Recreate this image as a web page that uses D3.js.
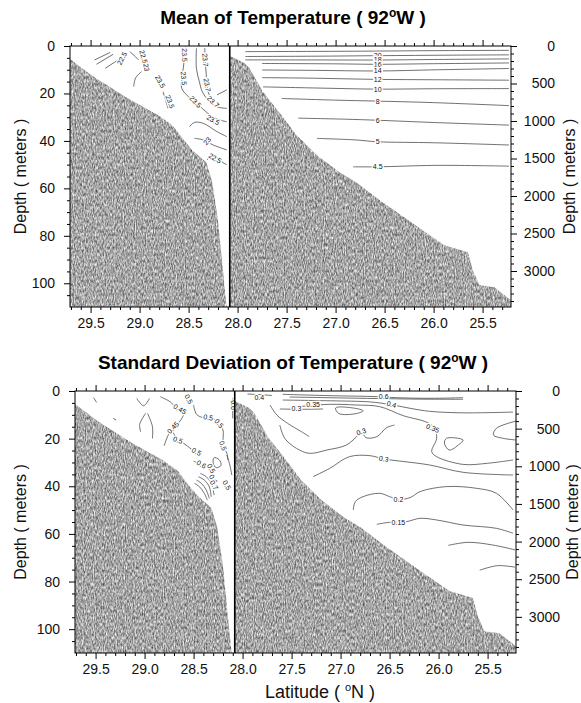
<!DOCTYPE html>
<html>
<head>
<meta charset="utf-8">
<script src="https://cdn.jsdelivr.net/npm/d3@7"></script>
<style>
  body { margin: 0; background: #fff; }
  svg { display: block; font-family: "Liberation Sans", Arial, Helvetica, sans-serif; }
</style>
</head>
<body>
<svg id="chart" width="581" height="703"></svg>
<script>
// ---------------- data ----------------
const latMajorTicks = [29.5, 29.0, 28.5, 28.0, 27.5, 27.0, 26.5, 26.0, 25.5];
const shelfDepthTicks = [0, 20, 40, 60, 80, 100];
const deepDepthTicks = [0, 500, 1000, 1500, 2000, 2500, 3000];
const latRange = [29.71, 25.21];
const splitLat = 28.08;          // shelf section (left) / deep section (right)
const shelfDepthMax = 110;       // m, left axis
const deepDepthMax = 3480;       // m, right axis

// bottom topography [lat, depth]
const shelfBottom = [[29.71,5.5],[29.48,12.6],[29.13,21.8],[28.80,29.4],[28.66,33.6],[28.56,39],
  [28.46,44],[28.32,49],[28.26,57],[28.20,73.5],[28.16,90],[28.12,107],[28.11,110]];
const slopeBottom = [[28.08,133],[27.93,227],[27.88,294],[27.74,614],[27.57,894],[27.40,1188],
  [27.19,1455],[26.96,1682],[26.79,1816],[26.55,2056],[26.14,2430],[25.89,2657],[25.65,2750],
  [25.60,2990],[25.53,3190],[25.38,3218],[25.21,3390]];

// mean temperature, shelf section: contour lines [lat, depth]
const meanShelfLines = [
  [[29.46,5.9],[29.30,2.7]],
  [[29.44,7.7],[29.27,3.5]],
  [[29.35,9.4],[29.22,5.9]],
  [[29.10,2.4],[29.04,4.6],[29.01,5.9]],
  [[28.98,10.8],[29.04,13.4],[29.06,17.1]],
  [[28.76,19.3],[28.71,26.3]],
  [[28.53,0.3],[28.55,8.0],[28.57,17.8],[28.50,21.4],[28.38,25.6],[28.28,29.1],[28.18,31.2],[28.11,31.9]],
  [[28.42,1.0],[28.42,9.4],[28.39,15.0],[28.36,19.3],[28.30,22.8],[28.21,25.6],[28.11,26.3]],
  [[28.335,0.8],[28.33,6],[28.32,12],[28.31,17],[28.29,20.5],[28.24,23.0]],
  [[28.21,20.6],[28.11,18.5]],
  [[28.49,34],[28.44,32.2],[28.35,32.6],[28.21,36.1],[28.11,38.2]],
  [[28.44,38.9],[28.35,39.6],[28.25,41.7],[28.11,43.8]],
  [[28.31,48],[28.26,46],[28.20,47.5],[28.14,49.4],[28.11,50]]
];
const meanShelfLabels = [
  {t:"22.5", lat:29.18, d:5.2, rot:-62}, {t:"22.5", lat:28.96, d:4.5, rot:75},
  {t:"23", lat:28.93, d:9.0, rot:80},    {t:"23.5", lat:28.79, d:15.0, rot:60},
  {t:"23.5", lat:28.69, d:23.5, rot:70}, {t:"23.5", lat:28.54, d:3.8, rot:88},
  {t:"23.5", lat:28.55, d:13.6, rot:85}, {t:"23.7", lat:28.33, d:5.9, rot:85},
  {t:"23.7", lat:28.31, d:16.4, rot:80}, {t:"23.7", lat:28.25, d:23.5, rot:45},
  {t:"23.5", lat:28.43, d:23.5, rot:45}, {t:"23.5", lat:28.25, d:31.2, rot:30},
  {t:"23", lat:28.31, d:40.0, rot:-50},  {t:"22.5", lat:28.23, d:47.3, rot:30}
];

// mean temperature, deep section
const meanDeepLines = [
  [[27.92,75],[27.2,72],[26.6,68],[26.0,62],[25.23,58]],
  [[27.92,140],[27.2,136],[26.57,129],[25.8,122],[25.23,118]],
  [[27.92,185],[27.2,186],[26.57,187],[26.0,180],[25.23,172]],
  [[27.75,233],[27.0,238],[26.57,244],[26.0,236],[25.23,226]],
  [[27.75,320],[27.2,325],[26.57,333],[26.0,318],[25.23,300]],
  [[27.75,422],[27.3,428],[26.57,445],[26.0,450],[25.23,456]],
  [[27.74,545],[27.2,560],[26.57,575],[26.0,570],[25.23,568]],
  [[27.55,700],[27.0,722],[26.57,735],[26.0,755],[25.23,795]],
  [[27.38,962],[26.9,976],[26.57,990],[26.0,1020],[25.23,1055]],
  [[27.19,1232],[26.8,1252],[26.57,1277],[26.0,1290],[25.23,1320]],
  [[26.82,1611],[26.57,1611],[26.0,1592],[25.5,1596],[25.23,1602]]
];
const meanDeepLabels = [
  {t:"20", lat:26.57, d:129, rot:0}, {t:"18", lat:26.57, d:187, rot:0},
  {t:"16", lat:26.57, d:244, rot:0}, {t:"14", lat:26.57, d:333, rot:0},
  {t:"12", lat:26.57, d:445, rot:0}, {t:"10", lat:26.57, d:575, rot:0},
  {t:"8", lat:26.57, d:735, rot:0},  {t:"6", lat:26.57, d:990, rot:0},
  {t:"5", lat:26.57, d:1277, rot:0}, {t:"4.5", lat:26.57, d:1611, rot:0}
];

// standard deviation, shelf section
const sdShelfLines = [
  [[29.52,2.8],[29.49,4.8]],
  [[29.32,11.5],[29.29,12.2]],
  [[29.08,3.1],[29.01,6.2],[28.95,3.1]],
  [[28.99,9.4],[29.05,14.0],[29.04,17.1]],
  [[28.97,9.4],[28.92,14.9],[28.92,19.9]],
  [[28.84,2.4],[28.74,4.5],[28.70,6.2]],
  [[28.59,8.9],[28.63,12.2],[28.67,14.0],[28.74,17.1],[28.78,20.6],[28.80,23]],
  [[28.50,5.9],[28.47,9.8],[28.40,11.2],[28.35,11.1],[28.29,11.8],[28.24,13.7],[28.20,16.4],
   [28.20,20.6],[28.20,23.0],[28.16,26.2],[28.15,29.0]],
  [[28.72,16.5],[28.66,20.6],[28.60,22],[28.52,24.5],[28.45,26.5]],
  [[28.50,29.5],[28.42,30.8],[28.36,31.5],[28.32,33]],
  [[28.43,34.6],[28.37,36.0],[28.32,38.8],[28.29,43.7]],
  [[28.45,36.0],[28.39,37.4],[28.34,40.2],[28.32,44.4]],
  [[28.47,37.4],[28.42,38.8],[28.37,41.6],[28.34,45.1]],
  [[28.49,38.8],[28.44,40.2],[28.39,42.97],[28.36,45.8]],
  [[28.16,26.9],[28.13,31.1],[28.11,35.3]],
  [[28.10,3.1],[28.10,11.5]]
];
const sdShelfLoops = [
  [[28.29,28.0],[28.24,28.8],[28.22,31.2],[28.27,32.2],[28.30,30.2]]
];
const sdShelfLabels = [
  {t:"0.5", lat:28.55, d:3.4, rot:60},   {t:"0.45", lat:28.64, d:7.6, rot:30},
  {t:"0.45", lat:28.71, d:15.4, rot:-45}, {t:"0.5", lat:28.35, d:11.1, rot:10},
  {t:"0.5", lat:28.24, d:13.6, rot:50},  {t:"0.5", lat:28.20, d:23.0, rot:70},
  {t:"0.5", lat:28.66, d:20.6, rot:20},  {t:"0.5", lat:28.47, d:25.5, rot:30},
  {t:"0.6", lat:28.42, d:30.8, rot:30},  {t:"0.5", lat:28.32, d:32.5, rot:60},
  {t:"0.6", lat:28.30, d:37.0, rot:60},  {t:"0.7", lat:28.29, d:39.5, rot:60},
  {t:"0.5", lat:28.16, d:39.5, rot:60},  {t:"0.6", lat:28.095, d:5.9, rot:90}
];

// standard deviation, deep section
const sdDeepLines = [
  [[27.59,44],[27.11,62],[26.63,75],[26.43,89],[26.09,97],[25.75,89]],
  [[27.52,80],[27.0,92],[26.63,100],[26.2,108],[25.75,110]],
  [[27.59,120],[27.11,130],[26.7,145],[26.5,178],[26.29,230],[26.09,270],[25.75,290],[25.24,280]],
  [[27.42,208],[27.32,195],[27.11,177],[26.84,186],[26.60,208],[26.36,328],[26.12,416],[26.04,496],
   [26.02,629],[26.07,806],[26.02,872],[25.75,975],[25.5,960],[25.24,916]],
  [[27.62,239],[27.40,243],[27.18,239]],
  [[27.62,452],[27.57,629],[27.45,762],[27.32,828],[27.14,784],[26.94,717],[26.82,584],[26.79,540],
   [26.74,620],[26.63,606],[26.53,487],[26.45,452]],
  [[27.72,186],[27.65,319],[27.54,430],[27.40,540],[27.32,606]],
  [[27.28,1138],[27.11,1027],[26.91,872],[26.70,859],[26.56,903],[26.40,930],[26.09,983],[25.75,1080],[25.24,1116]],
  [[25.21,400],[25.41,496],[25.44,584],[25.34,629],[25.21,651]],
  [[26.87,1580],[26.85,1470],[26.77,1403],[26.60,1359],[26.50,1403],[26.41,1440],[26.29,1416],
   [26.19,1337],[25.92,1270],[25.61,1293],[25.41,1359],[25.24,1580]],
  [[26.63,1771],[26.50,1744],[26.33,1736],[26.19,1691],[26.02,1713],[25.75,1780],[25.41,1824],[25.24,1890]],
  [[25.9,2050],[25.7,2010],[25.45,2045],[25.22,2110]],
  [[25.58,2380],[25.4,2320],[25.22,2340]],
  [[27.95,40],[27.8,50],[27.7,60]]
];
const sdDeepLoops = [
  [[27.05,225],[26.92,218],[26.77,262],[26.84,300],[27.02,298]],
  [[25.92,629],[25.75,651],[25.79,708],[25.89,784],[25.94,695]]
];
const sdDeepLabels = [
  {t:"0.6", lat:26.56, d:75, rot:0},    {t:"0.4", lat:26.48, d:177, rot:15},
  {t:"0.35", lat:27.28, d:186, rot:0},  {t:"0.3", lat:27.45, d:239, rot:0},
  {t:"0.35", lat:26.06, d:496, rot:20}, {t:"0.3", lat:26.79, d:540, rot:-20},
  {t:"0.3", lat:26.56, d:903, rot:10},  {t:"0.2", lat:26.41, d:1447, rot:0},
  {t:"0.15", lat:26.41, d:1744, rot:0}, {t:"0.4", lat:27.83, d:88, rot:0}
];

// ---------------- drawing ----------------
const svg = d3.select("#chart");
const defs = svg.append("defs");

// grainy grey fill for the sea floor
const grain = defs.append("filter").attr("id", "grain")
  .attr("filterUnits", "userSpaceOnUse").attr("x", 0).attr("y", 0)
  .attr("width", 581).attr("height", 703)
  .attr("color-interpolation-filters", "sRGB");
grain.append("feTurbulence").attr("type", "fractalNoise")
  .attr("baseFrequency", "0.9 0.3").attr("numOctaves", 2).attr("seed", 11).attr("result", "n");
grain.append("feColorMatrix").attr("in", "n").attr("type", "matrix")
  .attr("values", "0.9 0 0 0 0.2  0.9 0 0 0 0.2  0.9 0 0 0 0.2  0 0 0 0 1");

const panels = [
  { id: "mean", title: "Mean of Temperature", titleY: 24,
    top: 46, bottom: 307, left: 70, right: 511, yTitleRight: 569,
    shelfLines: meanShelfLines, shelfLoops: [], shelfLabels: meanShelfLabels,
    deepLines: meanDeepLines, deepLoops: [], deepLabels: meanDeepLabels },
  { id: "sd", title: "Standard Deviation of Temperature", titleY: 369,
    top: 391, bottom: 653, left: 75, right: 516, yTitleRight: 572,
    shelfLines: sdShelfLines, shelfLoops: sdShelfLoops, shelfLabels: sdShelfLabels,
    deepLines: sdDeepLines, deepLoops: sdDeepLoops, deepLabels: sdDeepLabels }
];

function superTitle(sel, before, sup, after, supSize, shift) {
  sel.append("tspan").text(before);
  sel.append("tspan").attr("font-size", supSize).attr("dy", -shift).text(sup);
  sel.append("tspan").attr("dy", shift).text(after);
}

panels.forEach(p => {
  const x = d3.scaleLinear().domain(latRange).range([p.left, p.right]);
  const yS = d3.scaleLinear().domain([0, shelfDepthMax]).range([p.top, p.bottom]);
  const yD = d3.scaleLinear().domain([0, deepDepthMax]).range([p.top, p.bottom]);
  const xs = x(splitLat);

  defs.append("clipPath").attr("id", p.id + "-shelf").append("rect")
    .attr("x", p.left).attr("y", p.top).attr("width", xs - p.left).attr("height", p.bottom - p.top);
  defs.append("clipPath").attr("id", p.id + "-deep").append("rect")
    .attr("x", xs).attr("y", p.top).attr("width", p.right - xs).attr("height", p.bottom - p.top);

  const sections = [
    { clip: p.id + "-shelf", y: yS, lines: p.shelfLines, loops: p.shelfLoops, labels: p.shelfLabels },
    { clip: p.id + "-deep", y: yD, lines: p.deepLines, loops: p.deepLoops, labels: p.deepLabels }
  ];

  sections.forEach(s => {
    const g = svg.append("g").attr("clip-path", `url(#${s.clip})`);
    const line = d3.line().x(d => x(d[0])).y(d => s.y(d[1])).curve(d3.curveCatmullRom.alpha(0.5));
    const loop = d3.line().x(d => x(d[0])).y(d => s.y(d[1])).curve(d3.curveCatmullRomClosed.alpha(0.5));
    g.selectAll("path.c").data(s.lines).join("path").attr("class", "c")
      .attr("d", line).attr("fill", "none").attr("stroke", "#333").attr("stroke-width", 0.7);
    g.selectAll("path.l").data(s.loops).join("path").attr("class", "l")
      .attr("d", loop).attr("fill", "none").attr("stroke", "#333").attr("stroke-width", 0.7);
    g.selectAll("text").data(s.labels).join("text")
      .attr("transform", d => `translate(${x(d.lat)},${s.y(d.d)}) rotate(${d.rot})`)
      .attr("text-anchor", "middle").attr("dy", "0.35em")
      .attr("font-size", 7).attr("fill", "#111")
      .attr("stroke", "#fff").attr("stroke-width", 2.6).attr("paint-order", "stroke")
      .text(d => d.t);
  });

  // sea floor
  const shelfPoly = shelfBottom.map(d => [x(d[0]), yS(d[1])]);
  shelfPoly.push([x(shelfBottom[shelfBottom.length - 1][0]), p.bottom], [p.left, p.bottom]);
  const deepPoly = slopeBottom.map(d => [x(d[0]), yD(d[1])]);
  deepPoly.push([p.right, yD(slopeBottom[slopeBottom.length - 1][1])], [p.right, p.bottom], [xs, p.bottom]);

  [[shelfPoly, p.id + "-shelf"], [deepPoly, p.id + "-deep"]].forEach(([poly, clip], i) => {
    const cid = p.id + "-floor" + i;
    defs.append("clipPath").attr("id", cid).append("path")
      .attr("d", "M" + poly.map(q => q.join(",")).join("L") + "Z");
    svg.append("g").attr("clip-path", `url(#${clip})`)
      .append("rect").attr("clip-path", `url(#${cid})`)
      .attr("x", p.left).attr("y", p.top).attr("width", p.right - p.left).attr("height", p.bottom - p.top)
      .attr("fill", "#999").attr("filter", "url(#grain)");
  });

  // divider and frame
  svg.append("line").attr("x1", xs).attr("x2", xs).attr("y1", p.top).attr("y2", p.bottom)
    .attr("stroke", "#000").attr("stroke-width", 1.6);
  svg.append("rect").attr("x", p.left).attr("y", p.top)
    .attr("width", p.right - p.left).attr("height", p.bottom - p.top)
    .attr("fill", "none").attr("stroke", "#000").attr("stroke-width", 1);

  // axes
  const latMinor = d3.range(253, 298).map(i => i / 10).filter(v => Math.abs(v * 2 - Math.round(v * 2)) > 1e-6);
  const tickStyle = g => {
    g.select(".domain").remove();
    g.selectAll(".tick line").attr("stroke", "#000");
    g.selectAll(".tick text").attr("font-size", 14).attr("fill", "#111")
      .attr("font-family", '"Liberation Sans", Arial, Helvetica, sans-serif');
  };
  svg.append("g").attr("transform", `translate(0,${p.bottom})`)
    .call(d3.axisBottom(x).tickValues(latMajorTicks).tickFormat(d3.format(".1f")).tickSize(6).tickPadding(5))
    .call(tickStyle);
  svg.append("g").attr("transform", `translate(0,${p.bottom})`)
    .call(d3.axisBottom(x).tickValues(latMinor).tickFormat("").tickSize(3)).call(tickStyle);
  svg.append("g").attr("transform", `translate(0,${p.top})`)
    .call(d3.axisTop(x).tickValues(latMajorTicks).tickFormat("").tickSize(6)).call(tickStyle);
  svg.append("g").attr("transform", `translate(0,${p.top})`)
    .call(d3.axisTop(x).tickValues(latMinor).tickFormat("").tickSize(3)).call(tickStyle);

  svg.append("g").attr("transform", `translate(${p.left},0)`)
    .call(d3.axisLeft(yS).tickValues(shelfDepthTicks).tickSize(6).tickPadding(9)).call(tickStyle);
  svg.append("g").attr("transform", `translate(${p.left},0)`)
    .call(d3.axisLeft(yS).tickValues(d3.range(5, shelfDepthMax, 5).filter(v => v % 20)).tickFormat("").tickSize(3))
    .call(tickStyle);

  const ra = svg.append("g").attr("transform", `translate(${p.right},0)`)
    .call(d3.axisRight(yD).tickValues(deepDepthTicks).tickFormat(d3.format("d")).tickSize(6)).call(tickStyle);
  ra.selectAll(".tick text").attr("text-anchor", "end").attr("x", 44);
  svg.append("g").attr("transform", `translate(${p.right},0)`)
    .call(d3.axisRight(yD).tickValues(d3.range(100, deepDepthMax, 100).filter(v => v % 500)).tickFormat("").tickSize(3))
    .call(tickStyle);

  // titles
  const t = svg.append("text").attr("x", 293).attr("y", p.titleY)
    .attr("text-anchor", "middle").attr("font-weight", "bold").attr("font-size", 19).attr("fill", "#000");
  superTitle(t, p.title + " ( 92", "o", "W )", 12, 7);

  const cy = (p.top + p.bottom) / 2;
  svg.append("text").attr("transform", `translate(20,${cy}) rotate(-90)`)
    .attr("text-anchor", "middle").attr("dy", "0.35em").attr("font-size", 16).attr("fill", "#111")
    .text("Depth ( meters )");
  svg.append("text").attr("transform", `translate(${p.yTitleRight},${cy}) rotate(-90)`)
    .attr("text-anchor", "middle").attr("dy", "0.35em").attr("font-size", 16).attr("fill", "#111")
    .text("Depth ( meters )");
});

const xl = svg.append("text").attr("x", 320).attr("y", 698)
  .attr("text-anchor", "middle").attr("font-size", 18).attr("fill", "#111");
superTitle(xl, "Latitude ( ", "o", "N )", 11, 7);
</script>
</body>
</html>
